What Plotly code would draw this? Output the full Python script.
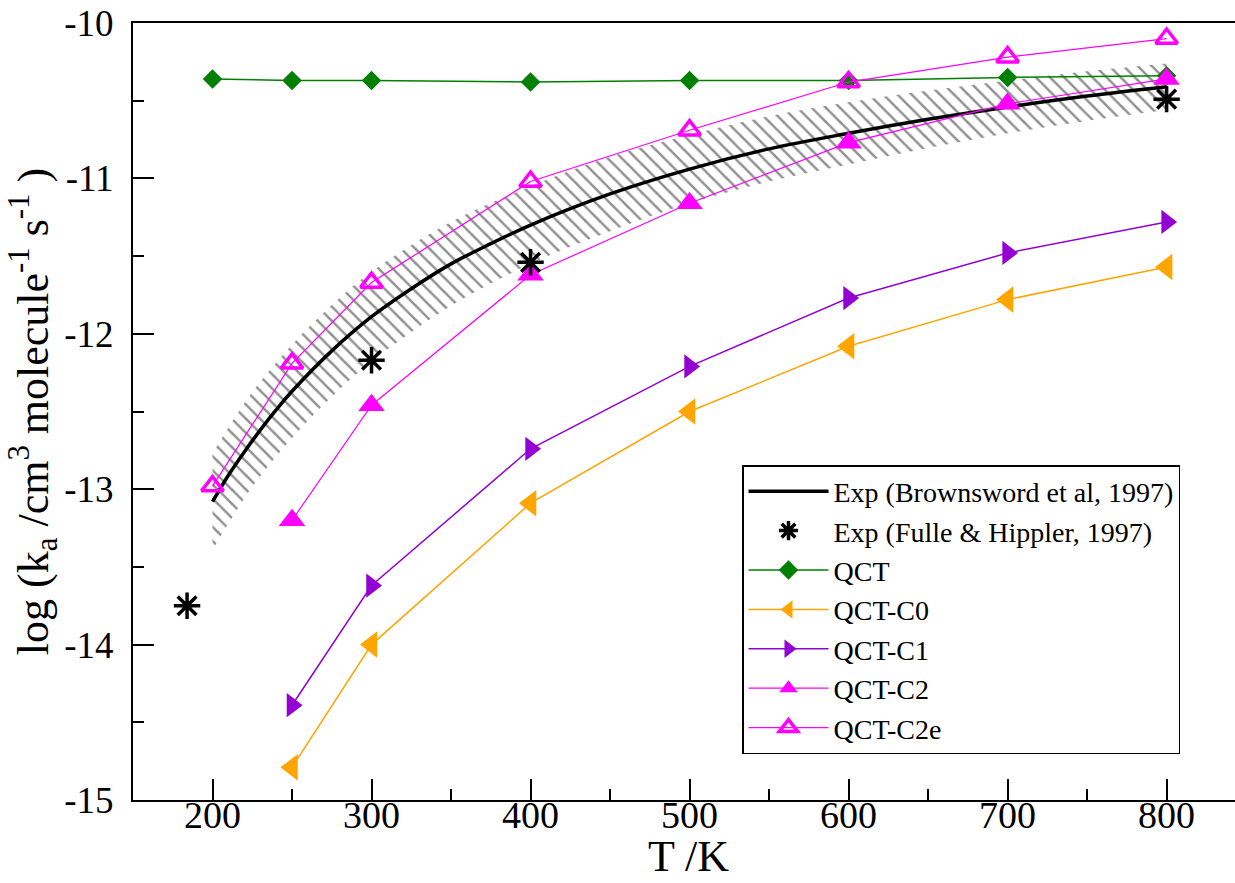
import plotly.graph_objects as go

# ---- data ----
T_qct = [200, 250, 300, 400, 500, 600, 700, 800]
qct = [-10.36, -10.37, -10.37, -10.38, -10.37, -10.37, -10.35, -10.34]

T_c = [250, 300, 400, 500, 600, 700, 800]
qct_c0 = [-14.79, -14.00, -13.09, -12.50, -12.08, -11.78, -11.57]
qct_c1 = [-14.39, -13.62, -12.74, -12.21, -11.77, -11.48, -11.28]
qct_c2 = [-13.20, -12.46, -11.62, -11.16, -10.77, -10.52, -10.36]

T_c2e = [200, 250, 300, 400, 500, 600, 700, 800]
qct_c2e = [-12.98, -12.19, -11.67, -11.02, -10.69, -10.38, -10.22, -10.10]

T_fh = [184, 300, 400, 800]
exp_fh = [-13.75, -12.17, -11.54, -10.49]

T_bw = [200, 210, 220, 230, 240, 250, 275, 300, 325, 350, 375, 400, 450, 500,
        550, 600, 650, 700, 750, 800]
exp_bw = [-13.08, -12.91, -12.76, -12.62, -12.49, -12.37, -12.11, -11.89, -11.71,
          -11.55, -11.42, -11.30, -11.10, -10.94, -10.81, -10.71, -10.62, -10.54,
          -10.47, -10.41]

T_band = [200, 225, 250, 275, 300, 350, 400, 450, 500, 550, 600, 650, 700, 750, 800]
band_upper = [-12.77, -12.375, -12.07, -11.815, -11.60, -11.28, -11.05, -10.86,
              -10.72, -10.60, -10.51, -10.435, -10.37, -10.31, -10.26]
band_lower = [-13.39, -12.985, -12.67, -12.405, -12.18, -11.82, -11.55, -11.34,
              -11.16, -11.02, -10.91, -10.805, -10.71, -10.63, -10.56]

x_ticks = [200, 300, 400, 500, 600, 700, 800]
x_ticktext = ["200", "300", "400", "500", "600", "700", "800"]
y_ticks = [-15, -14, -13, -12, -11, -10]
y_ticktext = ["-15", "-14", "-13", "-12", "-11", "-10"]

x_title = "T /K"
y_title = "log (k<sub>a</sub> /cm<sup>3</sup> molecule<sup>-1</sup> s<sup>-1</sup> )"

FONT = "Liberation Serif, Times New Roman, serif"

fig = go.Figure()

# hatched uncertainty band
fig.add_trace(go.Scatter(x=T_band, y=band_lower, mode="lines",
                         line=dict(width=0, color="rgba(0,0,0,0)", shape="spline"),
                         showlegend=False, hoverinfo="skip"))
fig.add_trace(go.Scatter(x=T_band, y=band_upper, mode="lines",
                         line=dict(width=0, color="rgba(0,0,0,0)", shape="spline"),
                         fill="tonexty", fillcolor="rgba(0,0,0,0)",
                         fillpattern=dict(shape="\\", fgcolor="#222222",
                                          bgcolor="rgba(0,0,0,0)", size=10,
                                          solidity=0.25),
                         showlegend=False, hoverinfo="skip"))

fig.add_trace(go.Scatter(x=T_bw, y=exp_bw, mode="lines", name="Exp (Brownsword et al, 1997)",
                         line=dict(color="black", width=3.5, shape="spline"),
                         legendrank=1))

fig.add_trace(go.Scatter(x=T_qct, y=qct, mode="lines+markers", name="QCT",
                         line=dict(color="#008000", width=1.5),
                         marker=dict(symbol="diamond", size=15, color="#008000"),
                         legendrank=3))
fig.add_trace(go.Scatter(x=T_c, y=qct_c0, mode="lines+markers", name="QCT-C0",
                         line=dict(color="#FFA500", width=1.5),
                         marker=dict(symbol="triangle-left", size=23, color="#FFA500"),
                         legendrank=4))
fig.add_trace(go.Scatter(x=T_c, y=qct_c1, mode="lines+markers", name="QCT-C1",
                         line=dict(color="#9400D3", width=1.5),
                         marker=dict(symbol="triangle-right", size=21, color="#9400D3"),
                         legendrank=5))
fig.add_trace(go.Scatter(x=T_c, y=qct_c2, mode="lines+markers", name="QCT-C2",
                         line=dict(color="#FF00FF", width=1.2),
                         marker=dict(symbol="triangle-up", size=23, color="#FF00FF"),
                         legendrank=6))
fig.add_trace(go.Scatter(x=T_c2e, y=qct_c2e, mode="lines+markers", name="QCT-C2e",
                         line=dict(color="#FF00FF", width=1.2),
                         marker=dict(symbol="triangle-up-open", size=19, color="#FF00FF",
                                     line=dict(width=3.5, color="#FF00FF")),
                         legendrank=7))
fig.add_trace(go.Scatter(x=T_fh, y=exp_fh, mode="markers", name="Exp (Fulle & Hippler, 1997)",
                         marker=dict(symbol="asterisk-open", size=22, color="black",
                                     line=dict(width=3.5, color="black")),
                         legendrank=2))

fig.add_annotation(text=x_title, xref="paper", yref="paper", x=0.504, y=(800 - 883) / 777,
                   xanchor="center", yanchor="bottom", showarrow=False,
                   font=dict(family=FONT, size=44, color="black"))

fig.update_layout(
    width=1235, height=883,
    margin=dict(l=133, r=0, t=23, b=83),
    paper_bgcolor="white", plot_bgcolor="white",
    font=dict(family=FONT, color="black"),
    showlegend=True,
    legend=dict(x=(742 - 133) / 1102, y=(800 - 465) / 777, xanchor="left", yanchor="top",
                bgcolor="white", bordercolor="black", borderwidth=1.5,
                font=dict(family=FONT, size=28, color="black"),
                itemwidth=80, tracegroupgap=0, traceorder="normal"),
    xaxis=dict(range=[150, 843], tickmode="array", tickvals=x_ticks, ticktext=x_ticktext,
               ticks="inside", ticklen=21, tickwidth=1.5, tickcolor="black",
               minor=dict(dtick=50, tick0=150, ticks="inside", ticklen=11, tickwidth=1.5,
                          tickcolor="black"),
               showline=True, linecolor="black", linewidth=2, mirror=True,
               showgrid=False, zeroline=False, automargin=False,
               tickfont=dict(family=FONT, size=38, color="black"),
               ticklabelstandoff=-20),
    yaxis=dict(range=[-15, -10], tickmode="array", tickvals=y_ticks, ticktext=y_ticktext,
               ticks="inside", ticklen=21, tickwidth=1.5, tickcolor="black",
               minor=dict(dtick=0.5, tick0=-15, ticks="inside", ticklen=11, tickwidth=1.5,
                          tickcolor="black"),
               showline=True, linecolor="black", linewidth=2, mirror=False,
               showgrid=False, zeroline=False, automargin=False,
               tickfont=dict(family=FONT, size=37, color="black"),
               ticklabelstandoff=10,
               title=dict(text=y_title,
                          font=dict(family=FONT, size=44, color="black"),
                          standoff=2)),
)

fig.write_html("out.html")
